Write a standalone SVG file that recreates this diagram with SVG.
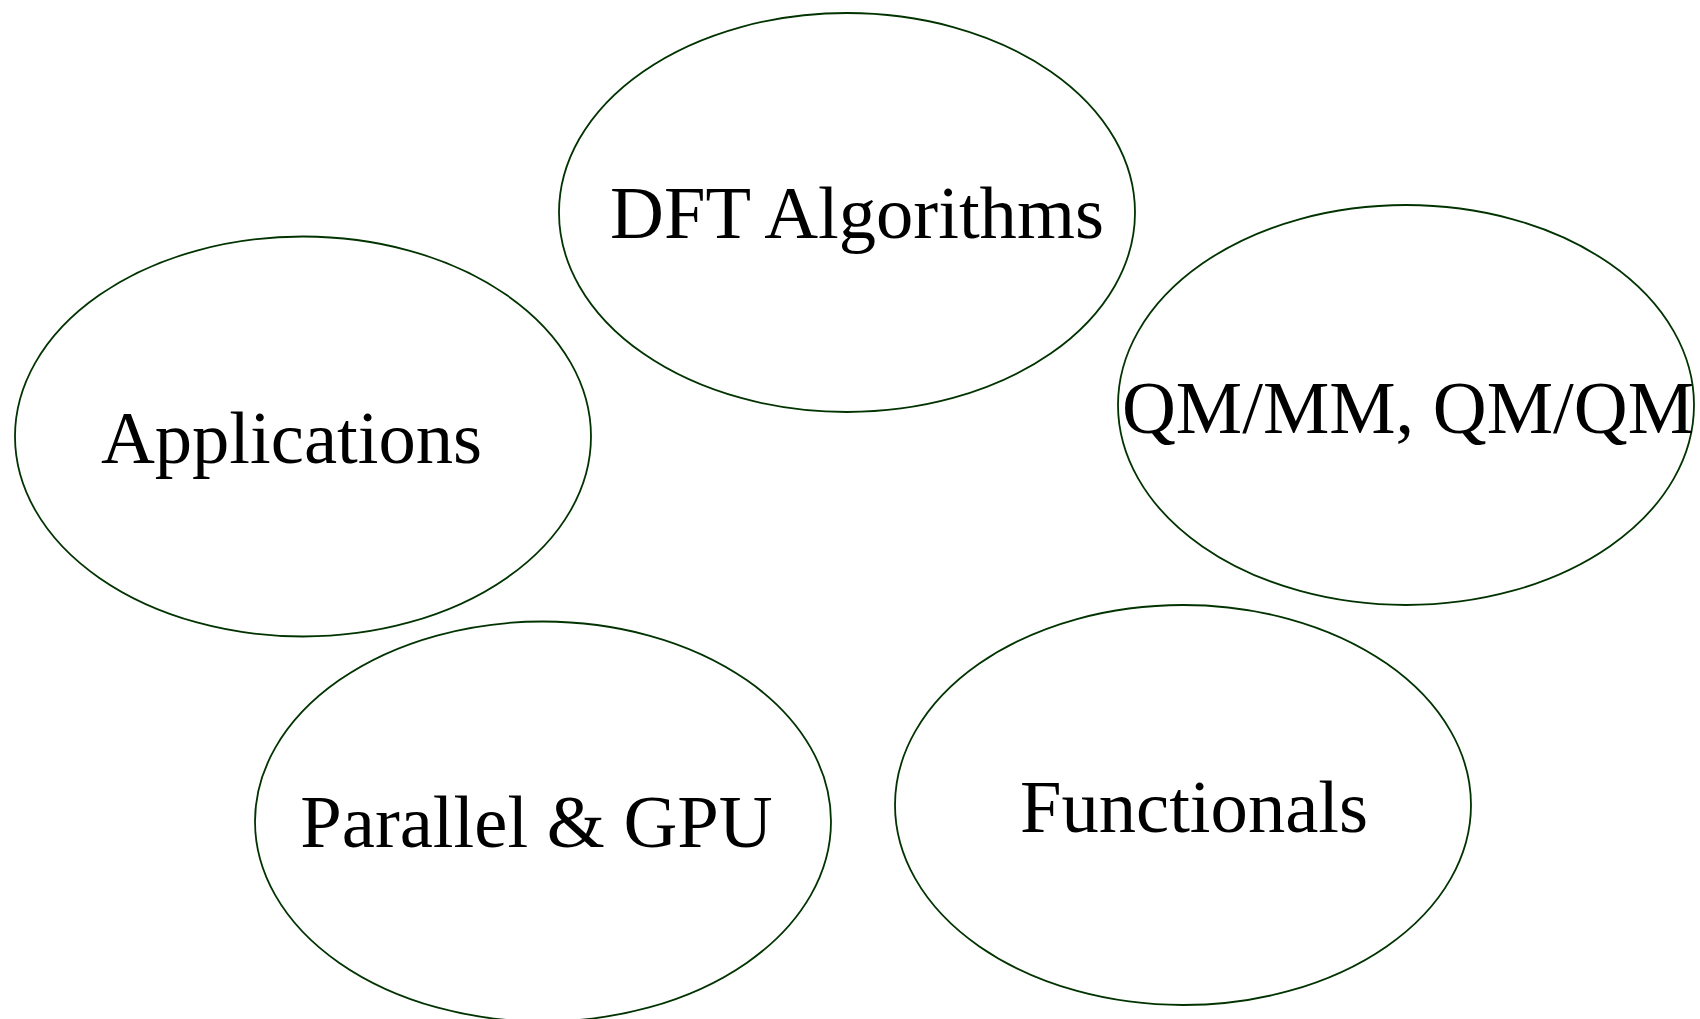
<svg xmlns="http://www.w3.org/2000/svg" width="1700" height="1019" viewBox="0 0 1700 1019">
<style>
.node ellipse{fill:#ffffff;stroke:#003300;stroke-width:1.8}
.node text{font-family:"Liberation Serif","Times New Roman",serif;font-size:74.6px;fill:#000000;text-anchor:middle}
</style>
<rect x="0" y="0" width="1700" height="1019" fill="#ffffff"/>
<g id="connectors"></g>
<g id="node-dft" class="node">
<ellipse cx="847" cy="212.5" rx="288" ry="199.5"/>
<text x="857" y="238">DFT Algorithms</text>
</g>
<g id="node-applications" class="node">
<ellipse cx="303" cy="436.5" rx="288" ry="200"/>
<text x="291.5" y="462.5">Applications</text>
</g>
<g id="node-qmmm" class="node">
<ellipse cx="1406" cy="405" rx="288" ry="200"/>
<text x="1408" y="433">QM/MM, QM/QM</text>
</g>
<g id="node-parallel" class="node">
<ellipse cx="543" cy="821.5" rx="288" ry="200"/>
<text x="536.5" y="846.5">Parallel &amp; GPU</text>
</g>
<g id="node-functionals" class="node">
<ellipse cx="1183" cy="805" rx="288" ry="200"/>
<text x="1194" y="831.5">Functionals</text>
</g>
</svg>
